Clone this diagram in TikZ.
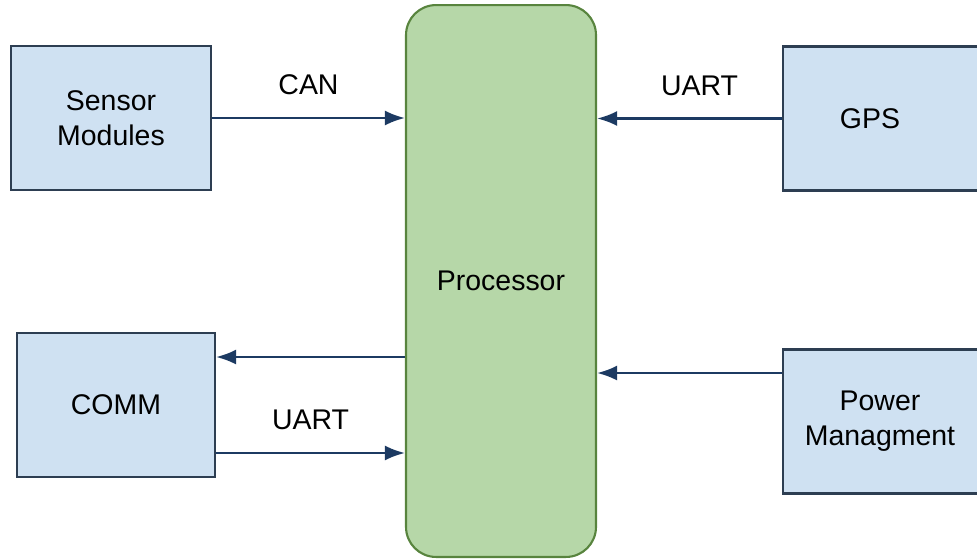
\documentclass[tikz,border=0pt]{standalone}
\usepackage{fontspec}
\setmainfont{Liberation Sans}
\usetikzlibrary{arrows.meta}

\definecolor{unitfill}{RGB}{207,225,242}
\definecolor{unitdraw}{RGB}{45,62,82}
\definecolor{cpufill}{RGB}{182,215,168}
\definecolor{cpudraw}{RGB}{88,132,62}
\definecolor{linkcol}{RGB}{28,58,98}

\begin{document}
\begin{tikzpicture}[
    x=0.02cm, y=-0.02cm,
    >={Latex[length=4mm,width=3mm]},
    font=\fontsize{16.2}{20}\selectfont,
    link/.style={->, line width=1.4pt, draw=linkcol},
    unit/.style={
        draw=unitdraw,
        fill=unitfill,
        line width=1.2pt,
        align=center,
        minimum height=2.88cm
    },
    cpu/.style={
        rounded corners=6mm,
        draw=cpudraw,
        fill=cpufill,
        line width=1.2pt,
        minimum width=3.8cm,
        minimum height=11.04cm
    },
    tag/.style={midway, yshift=0.66cm}
]
    \useasboundingbox (0,0) rectangle (977,558);
    \clip (0,0) rectangle (977,558);

    %------------------------------------------------
    % processor
    %------------------------------------------------
    \node[cpu] (cpu) at (501,281) {Processor};

    %------------------------------------------------
    % left side
    %------------------------------------------------
    \node[unit, minimum width=4cm] (sensor) at (111,118) {Sensor\\ Modules};
    \node[unit, minimum width=3.96cm] (comm) at (116,405) {COMM};

    %------------------------------------------------
    % right side (cut off by the page edge)
    %------------------------------------------------
    \node[unit, minimum width=4.4cm] (gps) at (893,118.5) {\hspace*{-0.92cm}GPS};
    \node[unit, minimum width=4.4cm] (power) at (893,421.5) {\hspace*{-0.52cm}Power\\ \hspace*{-0.52cm}Managment};

    %------------------------------------------------
    % links
    %------------------------------------------------
    \draw[link] (sensor.east) -- (sensor.east -| cpu.west) node[tag] {CAN};
    \draw[link] (gps.west) -- (gps.west -| cpu.east) node[tag, xshift=0.2cm] {UART};
    \draw[link] ([yshift=0.96cm]comm.east -| cpu.west) -- ([yshift=0.96cm]comm.east);
    \draw[link] ([yshift=-0.96cm]comm.east) -- ([yshift=-0.96cm]comm.east -| cpu.west) node[tag] {UART};
    \draw[link] ([yshift=0.97cm]power.west) -- ([yshift=0.97cm]power.west -| cpu.east);

\end{tikzpicture}
\end{document}
